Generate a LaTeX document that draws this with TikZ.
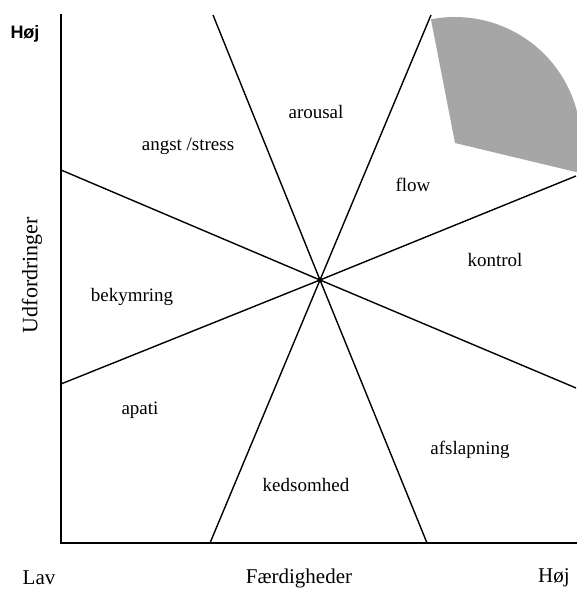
\documentclass[tikz,border=0pt]{standalone}
\usepackage{fontspec}
\setmainfont{Liberation Serif}
\newfontfamily\hojsans{Liberation Sans}
\begin{document}
\begin{tikzpicture}[x=1pt,y=1pt,
  axisline/.style={line width=1.8pt, line cap=rect},
  divline/.style={line width=1.4pt},
  zonelabel/.style={font=\fontsize{19}{22}\selectfont, inner sep=0pt},
  axislabel/.style={font=\fontsize{21}{24}\selectfont, inner sep=0pt}]
\useasboundingbox (0,0) rectangle (576,589);
% shaded flow core
\coordinate (G) at (455,446);
\fill[black!35] (G) -- ++(101:126) arc[start angle=101, end angle=-13.5, radius=126] -- cycle;
% axes
\coordinate (O) at (61,46);
\coordinate (Ytop) at (61,574);
\coordinate (Xend) at (576,46);
\draw[axisline] (Ytop) -- (O) -- (Xend);
% dividing lines through the centre
\coordinate (C) at (320,309);
\coordinate (A1) at (213,574);
\coordinate (A2) at (427,46);
\coordinate (B1) at (431,574);
\coordinate (B2) at (210,46);
\coordinate (D1) at (61,419);
\coordinate (D2) at (576,201);
\coordinate (E1) at (61,205);
\coordinate (E2) at (576,413);
\draw[divline] (A1) -- (C) -- (A2);
\draw[divline] (B1) -- (C) -- (B2);
\draw[divline] (D1) -- (C) -- (D2);
\draw[divline] (E1) -- (C) -- (E2);
\fill (C) circle (2.2);
% zone labels
\node[zonelabel] (arousal) at (316,477) {arousal};
\node[zonelabel] (angst) at (188,443) {angst /stress};
\node[zonelabel] (flow) at (413,404) {flow};
\node[zonelabel] (kontrol) at (495,329) {kontrol};
\node[zonelabel] (bekymring) at (132,292) {bekymring};
\node[zonelabel] (apati) at (140,179) {apati};
\node[zonelabel] (kedsomhed) at (306,104) {kedsomhed};
\node[zonelabel] (afslapning) at (470,139) {afslapning};
% axis labels
\node[font=\hojsans\bfseries\fontsize{18}{20}\selectfont, inner sep=0pt] (hojtop) at (25,555) {Høj};
\node[axislabel] (lav) at (39,11) {Lav};
\node[axislabel] (faerd) at (299,11) {Færdigheder};
\node[axislabel, anchor=west] (hojbund) at (538,11) {Høj};
\node[font=\fontsize{22}{25}\selectfont, inner sep=0pt, rotate=90] (udf) at (32,314) {Udfordringer};
\end{tikzpicture}
\end{document}
